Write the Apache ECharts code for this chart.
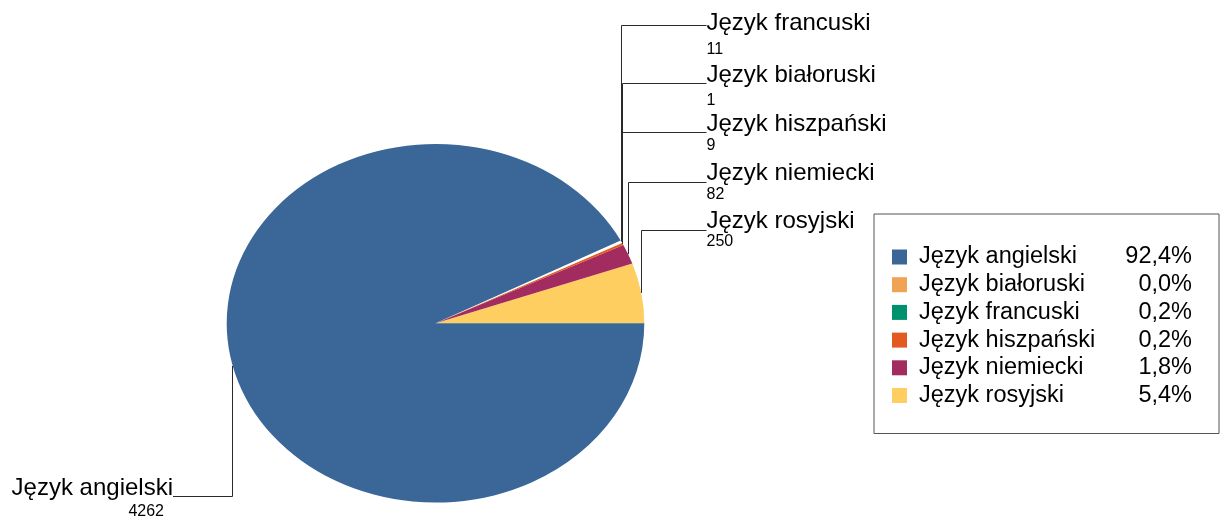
<!DOCTYPE html>
<html>
<head>
<meta charset="utf-8">
<script src="https://cdn.jsdelivr.net/npm/echarts@6/dist/echarts.min.js"></script>
<style>
html,body{margin:0;padding:0;background:#ffffff;}
#chart{width:1222px;height:522px;}
</style>
</head>
<body>
<div id="chart"></div>
<script>
// ---- data (slices in drawing order, counter-clockwise from 3 o'clock) ----
const categories = ['Język rosyjski', 'Język niemiecki', 'Język hiszpański', 'Język białoruski', 'Język francuski', 'Język angielski'];
const values = [250, 82, 9, 1, 11, 4262];
const legendOrder = ['Język angielski', 'Język białoruski', 'Język francuski', 'Język hiszpański', 'Język niemiecki', 'Język rosyjski'];

// ---- styles ----
const legendColors = {
  'Język angielski': '#3a6698',
  'Język białoruski': '#f0a354',
  'Język francuski': '#00916f',
  'Język hiszpański': '#e25a21',
  'Język niemiecki': '#a22b5f',
  'Język rosyjski': '#fece61'
};
const sliceColors = Object.assign({}, legendColors, {'Język francuski': '#ffffff'});
const FONT = '"Liberation Sans", Arial, sans-serif';
const PIE = {cx: 435.5, cy: 323.3, rx: 208.8, ry: 179.3};
// label layout: right-side rows (top to bottom) and left-side row
const RIGHT_X = 706.5;
const RIGHT_ROWS = [
  {line: 25.7, name: 31.7, val: 55},
  {line: 83.3, name: 84, val: 106.5},
  {line: 132.7, name: 132.7, val: 150.7},
  {line: 182.7, name: 181.7, val: 200},
  {line: 230.7, name: 229.7, val: 247.3}
];
const LEFT_X = 173;
const LEFT_ROW = {line: 496.7, name: 496.7, val: 516.7, valShift: 9};

const total = values.reduce((a, b) => a + b, 0);
const cum = [];
(function () { let acc = 0; values.forEach(v => { cum.push(acc); acc += v; }); })();

function angles(i) {
  const a0 = cum[i] / total * 2 * Math.PI;
  const a1 = (cum[i] + values[i]) / total * 2 * Math.PI;
  return [a0, a1, (a0 + a1) / 2];
}
function edgePoint(i) {
  const am = angles(i)[2];
  return [PIE.cx + PIE.rx * Math.cos(am), PIE.cy - PIE.ry * Math.sin(am)];
}
// assign right rows by edge y (top first)
const rightIdx = values.map((v, i) => i).filter(i => Math.cos(angles(i)[2]) > 0)
  .sort((a, b) => edgePoint(a)[1] - edgePoint(b)[1]);
const rowOf = {};
rightIdx.forEach((i, k) => { rowOf[i] = RIGHT_ROWS[k]; });

function pct(v) {
  return (v / total * 100).toFixed(1).replace('.', ',') + '%';
}
const crisp = x => Math.round(x - 0.5) + 0.5;
const mid = (baseline, size) => baseline - 0.3465 * size;

function renderItem(params, api) {
  const i = params.dataIndex;
  const [a0, a1] = angles(i);
  const [ex, ey] = edgePoint(i);
  const children = [{
    type: 'group', x: PIE.cx, y: PIE.cy, scaleX: PIE.rx / PIE.ry, scaleY: 1,
    children: [{
      type: 'sector',
      shape: {cx: 0, cy: 0, r0: 0, r: PIE.ry, startAngle: -a0, endAngle: -a1, clockwise: false},
      style: {fill: sliceColors[categories[i]]}
    }]
  }];
  const right = Math.cos(angles(i)[2]) > 0;
  const row = right ? rowOf[i] : LEFT_ROW;
  const vx = crisp(ex);
  const ly = crisp(row.line);
  const lx = right ? RIGHT_X : LEFT_X;
  children.push({
    type: 'polyline', z2: 10,
    shape: {points: [[vx, ey], [vx, ly], [lx, ly]]},
    style: {stroke: '#2a2a2a', lineWidth: 1, fill: null}
  });
  children.push({
    type: 'text', z2: 11,
    style: {
      x: lx, y: mid(row.name, 24), text: categories[i],
      font: '24px ' + FONT, fill: '#000', align: right ? 'left' : 'right', verticalAlign: 'middle'
    }
  });
  children.push({
    type: 'text', z2: 11,
    style: {
      x: right ? lx : lx - row.valShift, y: mid(row.val, 16), text: String(values[i]),
      font: '16px ' + FONT, fill: '#000', align: right ? 'left' : 'right', verticalAlign: 'middle'
    }
  });
  return {type: 'group', children};
}

const chart = echarts.init(document.getElementById('chart'), null, {renderer: 'canvas'});
chart.setOption({
  backgroundColor: '#ffffff',
  animation: false,
  legend: {
    data: legendOrder,
    orient: 'vertical',
    left: 874, top: 214,
    padding: [31, 27, 26, 18],
    itemWidth: 15, itemHeight: 15, itemGap: 3.7,
    icon: 'rect',
    selectedMode: false,
    borderColor: '#555555', borderWidth: 1,
    itemStyle: {borderWidth: 0},
    formatter: function (name) {
      const i = categories.indexOf(name);
      return '{s| }{n|' + name + '}{p|' + pct(values[i]) + '}';
    },
    textStyle: {
      fontFamily: FONT, fontSize: 23.5, color: '#000',
      rich: {
        s: {width: 7, fontSize: 23.5, lineHeight: 20, fontFamily: FONT},
        n: {width: 180, fontSize: 23.5, lineHeight: 20, fontFamily: FONT, color: '#000'},
        p: {width: 93, align: 'right', fontSize: 23.5, lineHeight: 20, fontFamily: FONT, color: '#000'}
      }
    }
  },
  series: [
    {
      type: 'custom',
      coordinateSystem: 'none',
      silent: true,
      renderItem: renderItem,
      data: values.map((v, i) => ({name: categories[i], value: v}))
    },
    {
      // provides the legend entries only
      type: 'pie',
      radius: [0, 0],
      center: [PIE.cx, PIE.cy],
      silent: true,
      label: {show: false}, labelLine: {show: false},
      emphasis: {disabled: true},
      data: values.map((v, i) => ({name: categories[i], value: v, itemStyle: {color: legendColors[categories[i]]}}))
    }
  ]
});
</script>
</body>
</html>
